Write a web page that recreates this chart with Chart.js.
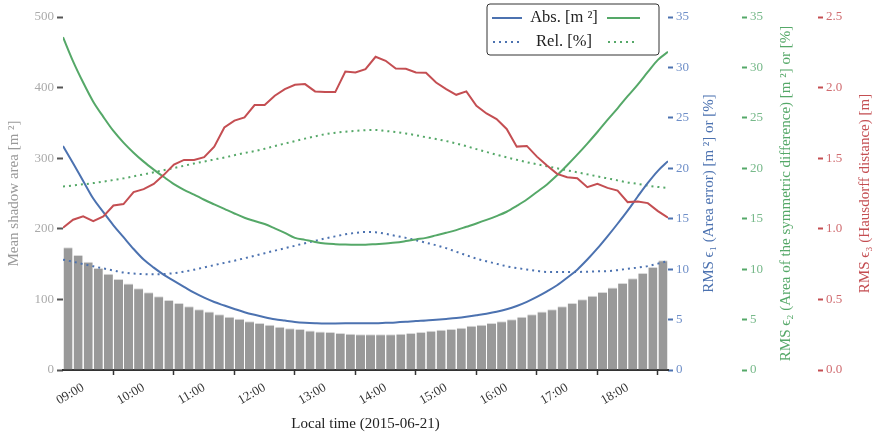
<!DOCTYPE html>
<html>
<head>
<meta charset="utf-8">
<script src="https://cdn.jsdelivr.net/npm/chart.js@4"></script>
<style>
  html, body { margin: 0; padding: 0; background: #fff; }
</style>
</head>
<body>
<canvas id="chart" width="874" height="436"></canvas>
<script>
// time axis, minutes after midnight
var startMinute = 520;   // 08:40
var stepMinutes = 10;
var hourTicks = [540, 600, 660, 720, 780, 840, 900, 960, 1020, 1080];
var tickLabels = ['09:00', '10:00', '11:00', '12:00', '13:00', '14:00', '15:00', '16:00', '17:00', '18:00'];

// mean shadow area [m2], one bar per 10 minutes
var shadowArea = [174, 163, 153.5, 144.5, 136.5, 129, 122.4, 115.8, 110, 104.5,
  99.3, 95, 90.4, 86, 82.9, 79, 75.3, 72.5, 69.2, 66.4,
  64, 61.2, 59.3, 57.9, 56, 54.6, 53.7, 52.3, 51.3, 50.8,
  50.8, 50.8, 50.8, 51.3, 52.3, 53.7, 55.6, 57, 57.9, 59.8,
  62.6, 64, 66.4, 69.2, 72, 75.3, 79, 82.9, 86.2, 90.4,
  95, 100.3, 105, 110.6, 116.8, 123.4, 130, 137.4, 146, 155.4];

// RMS e1, area error
var areaAbs = [22.2, 20.5, 18.75, 17.0, 15.65, 14.35, 13.17, 12.0, 10.95, 10.15,
  9.44, 8.84, 8.25, 7.66, 7.17, 6.74, 6.39, 6.05, 5.73, 5.47,
  5.24, 5.04, 4.9, 4.77, 4.69, 4.64, 4.61, 4.62, 4.63, 4.64,
  4.63, 4.64, 4.68, 4.72, 4.78, 4.85, 4.9, 4.98, 5.06, 5.15,
  5.27, 5.42, 5.58, 5.77, 6.02, 6.35, 6.76, 7.25, 7.8, 8.4,
  9.15, 9.95, 10.95, 12.05, 13.25, 14.5, 15.8, 17.2, 18.55, 19.75,
  20.7];
var areaRel = [10.94, 10.73, 10.5, 10.28, 10.07, 9.87, 9.67, 9.56, 9.51, 9.49,
  9.52, 9.6, 9.75, 9.95, 10.17, 10.4, 10.62, 10.84, 11.08, 11.33,
  11.58, 11.83, 12.07, 12.32, 12.57, 12.8, 13.04, 13.25, 13.45, 13.6,
  13.68, 13.65, 13.5, 13.3, 13.1, 12.87, 12.62, 12.37, 12.08, 11.72,
  11.38, 11.04, 10.78, 10.53, 10.28, 10.11, 9.96, 9.82, 9.72, 9.72,
  9.72, 9.72, 9.75, 9.78, 9.81, 9.9, 10.03, 10.15, 10.3, 10.55,
  10.8];

// RMS e2, area of the symmetric difference
var symAbs = [33.0, 30.6, 28.5, 26.6, 25.1, 23.7, 22.55, 21.55, 20.66, 19.87,
  19.13, 18.43, 17.87, 17.39, 16.88, 16.42, 15.97, 15.52, 15.1, 14.77,
  14.47, 14.05, 13.6, 13.1, 12.9, 12.7, 12.55, 12.48, 12.44, 12.42,
  12.42, 12.48, 12.55, 12.63, 12.78, 12.95, 13.1, 13.35, 13.6, 13.87,
  14.2, 14.53, 14.88, 15.26, 15.69, 16.27, 16.9, 17.65, 18.4, 19.3,
  20.3, 21.35, 22.45, 23.6, 24.8, 25.95, 27.15, 28.3, 29.55, 30.75,
  31.55];
var symRel = [18.19, 18.3, 18.41, 18.53, 18.68, 18.84, 19.0, 19.2, 19.4, 19.6,
  19.81, 20.03, 20.25, 20.47, 20.67, 20.87, 21.07, 21.3, 21.52, 21.7,
  21.93, 22.2, 22.45, 22.7, 22.94, 23.17, 23.38, 23.52, 23.63, 23.71,
  23.77, 23.8, 23.7, 23.6, 23.45, 23.28, 23.08, 22.9, 22.7, 22.46,
  22.2, 21.9, 21.62, 21.34, 21.09, 20.84, 20.6, 20.4, 20.2, 20.0,
  19.8, 19.6, 19.4, 19.2, 19.0, 18.8, 18.6, 18.45, 18.28, 18.15,
  18.05];

// RMS e3, Hausdorff distance [m]
var hausdorff = [1.008, 1.064, 1.088, 1.055, 1.088, 1.165, 1.175, 1.26, 1.281, 1.318,
  1.382, 1.455, 1.488, 1.488, 1.507, 1.582, 1.718, 1.766, 1.789, 1.876,
  1.876, 1.942, 1.989, 2.02, 2.025, 1.973, 1.968, 1.968, 2.114, 2.107,
  2.13, 2.218, 2.19, 2.135, 2.133, 2.107, 2.105, 2.036, 1.989, 1.949,
  1.973, 1.871, 1.817, 1.777, 1.707, 1.582, 1.587, 1.511, 1.448, 1.389,
  1.365, 1.358, 1.295, 1.318, 1.29, 1.271, 1.189, 1.193, 1.182, 1.125,
  1.078];

var blue = '#4c72b0', green = '#55a868', red = '#c44e52';

function barPoints(vals) {
  return vals.map(function (v, i) { return { x: startMinute + stepMinutes * i + stepMinutes / 2, y: v }; });
}
function linePoints(vals) {
  return vals.map(function (v, i) { return { x: startMinute + stepMinutes * i, y: v }; });
}
function lineSet(vals, color, axis, dotted, smooth, order) {
  return {
    type: 'line', data: linePoints(vals), yAxisID: axis,
    borderColor: color, borderWidth: 2, pointRadius: 0,
    borderDash: dotted ? [2, 4] : [], borderCapStyle: 'butt',
    fill: false, cubicInterpolationMode: smooth ? 'monotone' : 'default', tension: 0,
    order: order
  };
}

Chart.defaults.font.family = '"Liberation Serif", "DejaVu Serif", serif';
Chart.defaults.font.size = 13;

// axis titles on the right read bottom-to-top, so draw them here
var rightTitles = [
  { id: 'y1', text: 'RMS \u03f5\u2081 (Area error) [m \u00b2] or [%]', color: blue, dx: 41 },
  { id: 'y2', text: 'RMS \u03f5\u2082 (Area of the symmetric difference) [m \u00b2] or [%]', color: green, dx: 44 },
  { id: 'y3', text: 'RMS \u03f5\u2083 (Hausdorff distance) [m]', color: red, dx: 47 }
];

var extras = {
  id: 'extras',
  afterDraw: function (chart) {
    var ctx = chart.ctx, area = chart.chartArea;
    ctx.save();
    ctx.font = '15px "Liberation Serif", serif';
    ctx.textAlign = 'center';
    ctx.textBaseline = 'middle';
    rightTitles.forEach(function (t) {
      var s = chart.scales[t.id];
      ctx.save();
      ctx.translate(s.left + t.dx, (area.top + area.bottom) / 2);
      ctx.rotate(-Math.PI / 2);
      ctx.fillStyle = t.color;
      ctx.fillText(t.text, 0, 0);
      ctx.restore();
    });

    // legend
    var bx = 487, by = 4, bw = 172, bh = 51, r = 3;
    ctx.beginPath();
    ctx.moveTo(bx + r, by);
    ctx.arcTo(bx + bw, by, bx + bw, by + bh, r);
    ctx.arcTo(bx + bw, by + bh, bx, by + bh, r);
    ctx.arcTo(bx, by + bh, bx, by, r);
    ctx.arcTo(bx, by, bx + bw, by, r);
    ctx.closePath();
    ctx.fillStyle = 'rgba(255,255,255,0.9)';
    ctx.fill();
    ctx.strokeStyle = '#333';
    ctx.lineWidth = 1;
    ctx.stroke();

    function seg(x1, x2, y, color, dotted) {
      ctx.beginPath();
      ctx.setLineDash(dotted ? [2, 4] : []);
      ctx.strokeStyle = color;
      ctx.lineWidth = 2;
      ctx.moveTo(x1, y);
      ctx.lineTo(x2, y);
      ctx.stroke();
    }
    seg(492, 522, 18, blue, false);
    seg(607, 640, 18, green, false);
    seg(493, 521, 42, blue, true);
    seg(608, 636, 42, green, true);
    ctx.setLineDash([]);
    ctx.font = '16.5px "Liberation Serif", serif';
    ctx.fillStyle = '#222';
    ctx.fillText('Abs. [m \u00b2]', 564, 18);
    ctx.fillText('Rel. [%]', 564, 42);
    ctx.restore();
  }
};

new Chart(document.getElementById('chart'), {
  type: 'bar',
  data: {
    datasets: [
      {
        type: 'bar', data: barPoints(shadowArea), yAxisID: 'y',
        backgroundColor: '#999999', borderColor: '#dadada',
        borderWidth: { top: 1, left: 0, right: 0, bottom: 0 }, borderSkipped: false,
        barPercentage: 0.9, categoryPercentage: 1, order: 10
      },
      lineSet(areaRel, blue, 'y1', true, true, 6),
      lineSet(symRel, green, 'y2', true, true, 5),
      lineSet(areaAbs, blue, 'y1', false, true, 4),
      lineSet(symAbs, green, 'y2', false, true, 3),
      lineSet(hausdorff, red, 'y3', false, false, 2)
    ]
  },
  options: {
    responsive: false,
    animation: false,
    layout: { padding: { top: 17, left: 0, right: 0, bottom: 0 } },
    plugins: { legend: { display: false }, tooltip: { enabled: false } },
    scales: {
      x: {
        type: 'linear', min: 520, max: 1120, offset: false,
        afterBuildTicks: function (s) { s.ticks = hourTicks.map(function (v) { return { value: v }; }); },
        afterFit: function (s) { s.height = 66; },
        ticks: {
          autoSkip: false, minRotation: 30, maxRotation: 30, color: '#333', padding: 5,
          callback: function (v) { return tickLabels[hourTicks.indexOf(v)]; }
        },
        grid: { display: true, drawOnChartArea: false, tickLength: 5, tickColor: '#333', tickWidth: 1.5 },
        border: { display: true, color: '#333', width: 2 },
        title: { display: true, text: 'Local time (2015-06-21)', color: '#222', font: { size: 15 }, padding: { top: 0, bottom: 3 } }
      },
      y: {
        position: 'left', min: 0, max: 500,
        afterFit: function (s) { s.width = 63; },
        ticks: { stepSize: 100, color: '#aaaaaa', padding: 3 },
        grid: { display: true, drawOnChartArea: false, tickLength: 6, tickColor: '#555', tickWidth: 2 },
        border: { display: false },
        title: { display: true, text: 'Mean shadow area [m \u00b2]', color: '#999999', font: { size: 15 }, padding: { top: 5, bottom: 0 } }
      },
      y1: {
        position: 'right', weight: 1, min: 0, max: 35,
        afterFit: function (s) { s.width = 74; },
        ticks: { stepSize: 5, color: '#6f8fc8', padding: 3 },
        grid: { display: true, drawOnChartArea: false, tickLength: 5, tickColor: blue, tickWidth: 2 },
        border: { display: false }
      },
      y2: {
        position: 'right', weight: 2, min: 0, max: 35,
        afterFit: function (s) { s.width = 76; },
        ticks: { stepSize: 5, color: '#77b98a', padding: 3 },
        grid: { display: true, drawOnChartArea: false, tickLength: 5, tickColor: green, tickWidth: 2 },
        border: { display: false }
      },
      y3: {
        position: 'right', weight: 3, min: 0, max: 2.5,
        afterFit: function (s) { s.width = 56; },
        ticks: { stepSize: 0.5, color: '#d06c70', padding: 3, callback: function (v) { return v.toFixed(1); } },
        grid: { display: true, drawOnChartArea: false, tickLength: 5, tickColor: red, tickWidth: 2 },
        border: { display: false }
      }
    }
  },
  plugins: [extras]
});
</script>
</body>
</html>
